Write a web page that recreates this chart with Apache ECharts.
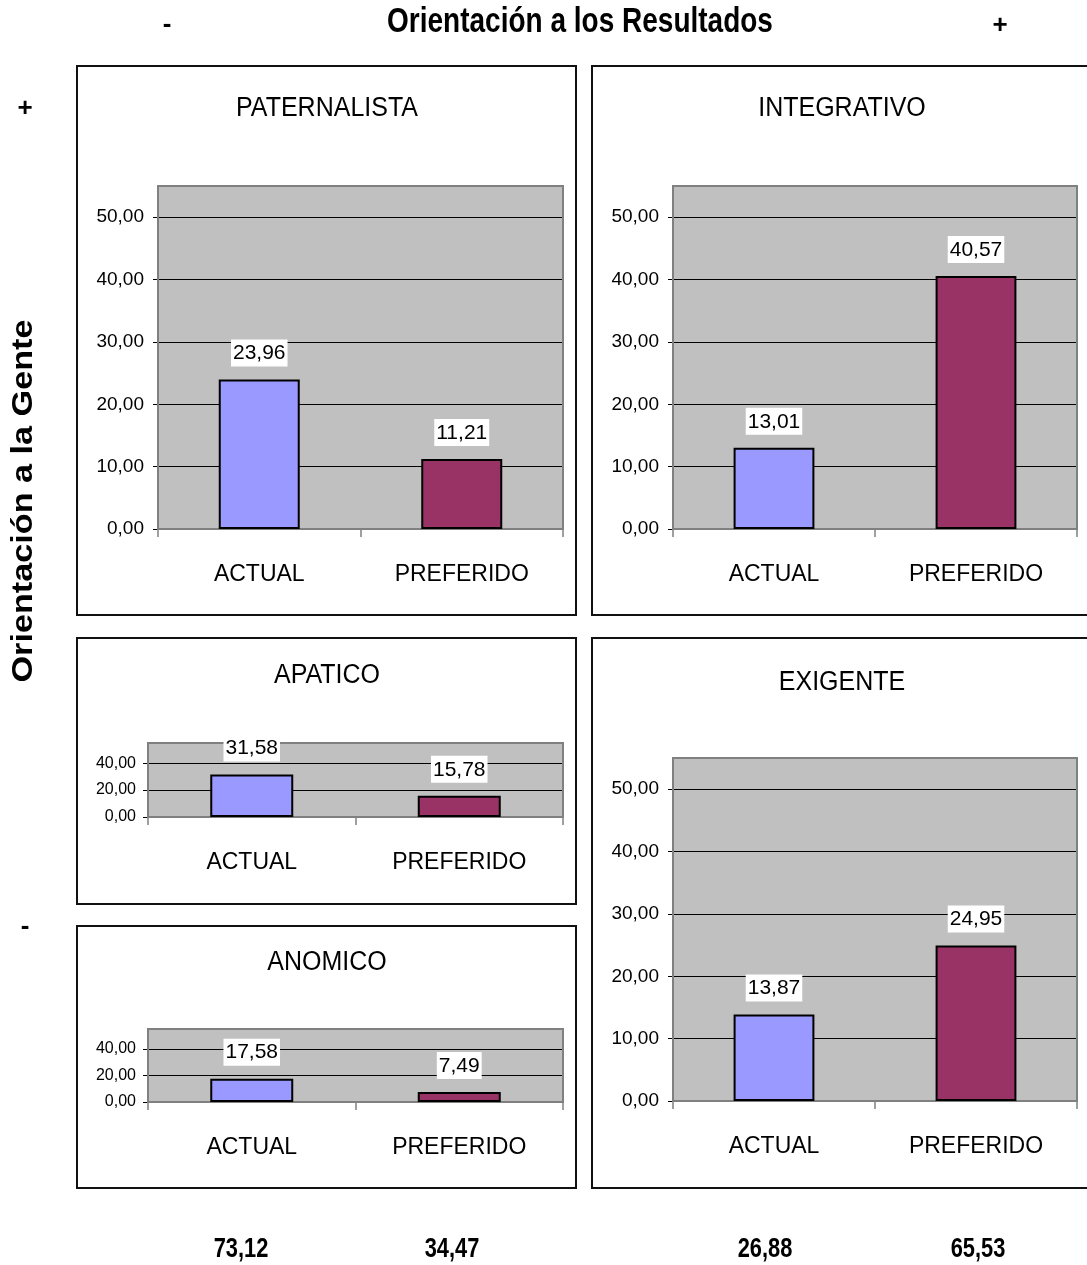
<!DOCTYPE html>
<html>
<head>
<meta charset="utf-8">
<script src="https://cdn.jsdelivr.net/npm/echarts@6/dist/echarts.min.js"></script>
<style>
html,body{margin:0;padding:0;background:#fff;}
#c{width:1087px;height:1265px;}
</style>
</head>
<body>
<div id="c"></div>
<script>
// ---- data ----
const categories = ['ACTUAL', 'PREFERIDO'];
const panelTitles = ['PATERNALISTA', 'INTEGRATIVO', 'APATICO', 'ANOMICO', 'EXIGENTE'];
const paternalista = [23.96, 11.21];
const integrativo = [13.01, 40.57];
const apatico = [31.58, 15.78];
const anomico = [17.58, 7.49];
const exigente = [13.87, 24.95];
const bigAxis = { min: 0, max: 55, interval: 10 };
const smallAxis = { min: 0, max: 55, interval: 20 };
const totals = ['73,12', '34,47', '26,88', '65,53'];
const topTitle = 'Orientación a los Resultados';
const sideTitle = 'Orientación a la Gente';
const barColors = ['#9999FF', '#993366'];

// ---- layout ----
const panels = [
  { title: panelTitles[0], data: paternalista, axis: bigAxis, box: [77, 66, 499, 549], grid: [158, 186, 405, 343], titleY: 109, small: false },
  { title: panelTitles[1], data: integrativo, axis: bigAxis, box: [592, 66, 510, 549], grid: [673, 186, 404, 343], titleY: 109, small: false },
  { title: panelTitles[2], data: apatico, axis: smallAxis, box: [77, 638, 499, 266], grid: [148, 743, 415, 74], titleY: 676, small: true },
  { title: panelTitles[3], data: anomico, axis: smallAxis, box: [77, 926, 499, 262], grid: [148, 1029, 415, 73], titleY: 963, small: true },
  { title: panelTitles[4], data: exigente, axis: bigAxis, box: [592, 638, 510, 550], grid: [673, 758, 404, 343], titleY: 683, small: false }
];

const FONT = '"Liberation Sans", Arial, sans-serif';
const fmt = v => Number(v).toFixed(2).replace('.', ',');

const grids = [], xAxes = [], yAxes = [], series = [], graphics = [];

panels.forEach((p, i) => {
  grids.push({
    left: p.grid[0], top: p.grid[1], width: p.grid[2], height: p.grid[3],
    show: true, backgroundColor: '#C0C0C0', borderWidth: 0, containLabel: false
  });
  xAxes.push({
    type: 'category', gridIndex: i, data: categories,
    axisLine: { show: true, lineStyle: { color: '#303030', width: 1 } },
    axisTick: { show: true, alignWithLabel: false, length: 8, lineStyle: { color: '#808080', width: 1.5 } },
    axisLabel: { margin: 34, fontSize: 23, color: '#000', fontFamily: FONT },
    splitLine: { show: false }
  });
  yAxes.push({
    type: 'value', gridIndex: i, min: p.axis.min, max: p.axis.max, interval: p.axis.interval,
    axisLine: { show: true, lineStyle: { color: '#808080', width: 2 } },
    axisTick: { show: true, length: 5, lineStyle: { color: '#000', width: 1 } },
    axisLabel: { margin: p.small ? 12 : 14, fontSize: p.small ? 16 : 19, color: '#000', fontFamily: FONT,
                 showMaxLabel: false, formatter: fmt },
    splitLine: { show: true, lineStyle: { color: '#000', width: 1 } }
  });
  series.push({
    type: 'bar', xAxisIndex: i, yAxisIndex: i, barWidth: '40%', z: 3,
    data: p.data.map((v, k) => ({ value: v, itemStyle: { color: barColors[k] } })),
    itemStyle: { borderColor: '#000', borderWidth: 2 },
    label: {
      show: true, position: 'top', distance: 13, formatter: d => fmt(d.value),
      backgroundColor: '#fff', padding: [2, 2, 1, 2], fontSize: 21, lineHeight: 24,
      color: '#000', fontFamily: FONT
    },
    emphasis: { disabled: true }, animation: false
  });
  // outer box
  graphics.push({
    type: 'rect', z: 0, shape: { x: p.box[0], y: p.box[1], width: p.box[2], height: p.box[3] },
    style: { fill: null, stroke: '#111', lineWidth: 2 }
  });
  // plot frame
  graphics.push({
    type: 'rect', z: 1, shape: { x: p.grid[0], y: p.grid[1], width: p.grid[2], height: p.grid[3] },
    style: { fill: null, stroke: '#808080', lineWidth: 2 }
  });
  // panel title
  graphics.push({
    type: 'text', z: 2, x: p.box[0] + 250, y: p.titleY, scaleY: 1.08,
    style: { text: p.title, align: 'center', verticalAlign: 'middle', font: '25px ' + FONT, fill: '#000' }
  });
});

// outer annotations
graphics.push({
  type: 'text', x: 580, y: 22, scaleX: 0.8,
  style: { text: topTitle, align: 'center', verticalAlign: 'middle', font: 'bold 35px ' + FONT, fill: '#000' }
});
graphics.push({ type: 'text', x: 167, y: 25, style: { text: '-', align: 'center', verticalAlign: 'middle', font: 'bold 26px ' + FONT, fill: '#000' } });
graphics.push({ type: 'text', x: 1000, y: 26, style: { text: '+', align: 'center', verticalAlign: 'middle', font: 'bold 26px ' + FONT, fill: '#000' } });
graphics.push({ type: 'text', x: 25, y: 109, style: { text: '+', align: 'center', verticalAlign: 'middle', font: 'bold 26px ' + FONT, fill: '#000' } });
graphics.push({ type: 'text', x: 25, y: 927, style: { text: '-', align: 'center', verticalAlign: 'middle', font: 'bold 26px ' + FONT, fill: '#000' } });
graphics.push({
  type: 'text', x: 24, y: 501, rotation: Math.PI / 2, scaleX: 1.14,
  style: { text: sideTitle, align: 'center', verticalAlign: 'middle', font: 'bold 30px ' + FONT, fill: '#000' }
});
const totalX = [241, 452, 765, 978];
totals.forEach((t, k) => {
  graphics.push({
    type: 'text', x: totalX[k], y: 1249, scaleX: 0.78,
    style: { text: t, align: 'center', verticalAlign: 'middle', font: 'bold 28px ' + FONT, fill: '#000' }
  });
});

const chart = echarts.init(document.getElementById('c'), null, { renderer: 'canvas' });
chart.setOption({
  animation: false,
  backgroundColor: '#fff',
  grid: grids, xAxis: xAxes, yAxis: yAxes, series: series,
  graphic: graphics
});
</script>
</body>
</html>
